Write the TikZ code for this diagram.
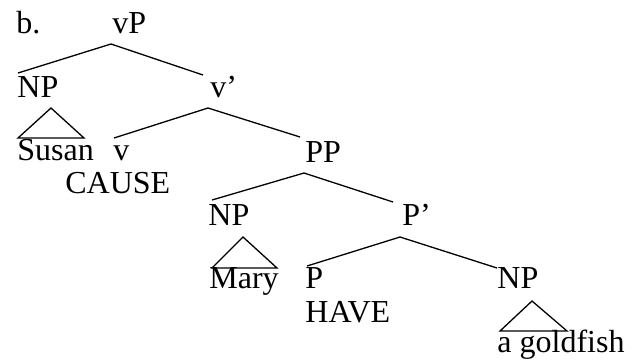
\documentclass[tikz,border=0pt]{standalone}
\usepackage{fontspec}
\setmainfont{Liberation Serif}
\begin{document}
\begin{tikzpicture}[x=0.5pt,y=-0.5pt,
  lab/.style={anchor=base west,inner sep=0pt,font=\fontsize{16}{19}\selectfont},
  br/.style={line width=0.65pt},
  tri/.style={line width=0.65pt,line join=miter}]
\useasboundingbox[fill=white] (0,0) rectangle (640,360);
% labels
\node[lab] (b) at (16,33) {b.};
\node[lab] (vP) at (112,33) {vP};
\node[lab] (NP1) at (17,97) {NP};
\node[lab] (v1) at (210,97) {v’};
\node[lab] (Susan) at (17,160) {Susan};
\node[lab] (v) at (113,160) {v};
\node[lab] (CAUSE) at (65,193) {CAUSE};
\node[lab] (PP) at (305,162) {PP};
\node[lab] (NP2) at (208,225) {NP};
\node[lab] (P1) at (402,225) {P’};
\node[lab] (Mary) at (209,288) {Mary};
\node[lab] (P) at (305,288) {P};
\node[lab] (HAVE) at (305,322) {HAVE};
\node[lab] (NP3) at (497,288) {NP};
\node[lab] (gold) at (497,352) {a goldfish};
% attachment points
\coordinate (vP-d) at (111,44);
\coordinate (NP1-u) at (18,73);
\coordinate (v1-u) at (203,75);
\coordinate (v1-d) at (208,108);
\coordinate (v-u) at (114,138);
\coordinate (PP-u) at (300,137);
\coordinate (PP-d) at (304,173);
\coordinate (NP2-u) at (212,200);
\coordinate (P1-u) at (393,202);
\coordinate (P1-d) at (400,237);
\coordinate (P-u) at (307,266);
\coordinate (NP3-u) at (497,268);
% branches
\draw[br] (NP1-u) -- (vP-d) -- (v1-u);
\draw[br] (v-u) -- (v1-d) -- (PP-u);
\draw[br] (NP2-u) -- (PP-d) -- (P1-u);
\draw[br] (P-u) -- (P1-d) -- (NP3-u);
% triangles
\coordinate (t1a) at (51,108);
\coordinate (t1l) at (18,138);
\coordinate (t1r) at (84,138);
\draw[tri] (t1a) -- (t1l) -- (t1r) -- cycle;
\coordinate (t2a) at (243,237);
\coordinate (t2l) at (212,268);
\coordinate (t2r) at (277,268);
\draw[tri] (t2a) -- (t2l) -- (t2r) -- cycle;
\coordinate (t3a) at (532,301);
\coordinate (t3l) at (500,331);
\coordinate (t3r) at (567,331);
\draw[tri] (t3a) -- (t3l) -- (t3r) -- cycle;
\end{tikzpicture}
\end{document}
